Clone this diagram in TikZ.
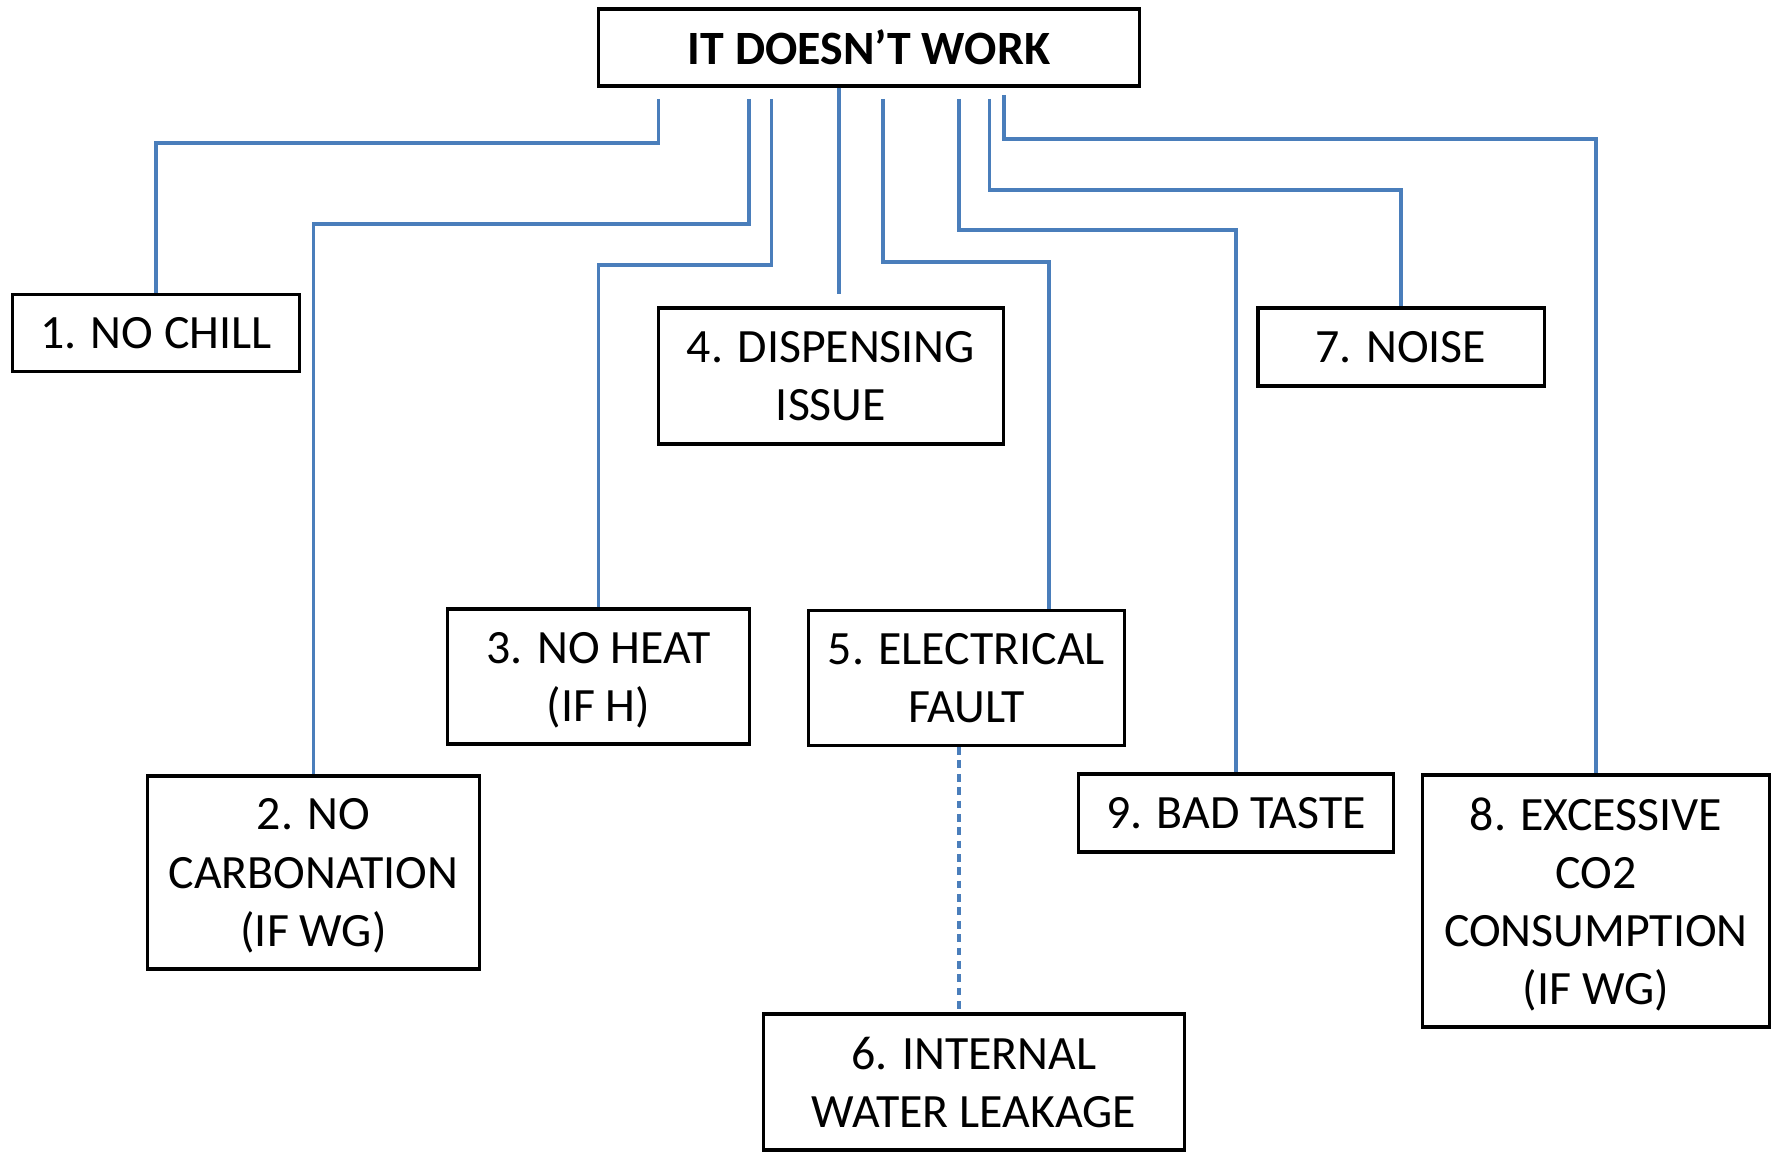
\documentclass[tikz,border=0pt]{standalone}
\usepackage{fontspec}
\setmainfont{Carlito}
\usepackage{tikz}

\definecolor{linkblue}{RGB}{74,126,187}

\tikzset{
  box/.style={draw, line width=0.9pt, align=center, inner sep=0pt, text depth=0pt,
    font=\fontsize{13.6}{16.5}\selectfont},
  link/.style={draw=linkblue, line width=0.9pt}
}

\begin{document}
\begin{tikzpicture}[x=0.01cm, y=-0.01cm]
\useasboundingbox (0,0) rectangle (1771,1155);

% boxes
\node[box, font=\fontsize{13.6}{16.5}\selectfont\bfseries, minimum width=5.40cm, minimum height=0.77cm] (top) at (869,47.5) {IT DOESN’T WORK};
\node[box, minimum width=2.86cm, minimum height=0.77cm] (n1) at (156,333) {1. NO CHILL};
\node[box, minimum width=3.31cm, minimum height=1.93cm] (n2) at (313.5,872.5) {2. NO\\CARBONATION\\(IF WG)};
\node[box, minimum width=3.01cm, minimum height=1.35cm] (n3) at (598.5,676.5) {3. NO HEAT\\(IF H)};
\node[box, minimum width=3.45cm, minimum height=1.36cm] (n4) at (831,376) {4. DISPENSING\\ISSUE};
\node[box, minimum width=3.15cm, minimum height=1.35cm] (n5) at (966.5,678) {5. ELECTRICAL\\FAULT};
\node[box, minimum width=4.20cm, minimum height=1.36cm] (n6) at (974,1082) {6. INTERNAL\\WATER LEAKAGE};
\node[box, minimum width=2.86cm, minimum height=0.78cm] (n7) at (1401,347) {7. NOISE};
\node[box, minimum width=3.46cm, minimum height=2.52cm] (n8) at (1596,901) {8. EXCESSIVE\\CO2\\CONSUMPTION\\(IF WG)};
\node[box, minimum width=3.15cm, minimum height=0.78cm] (n9) at (1236,813) {9. BAD TASTE};

% connectors
\draw[link] (658.5,99) |- (n1.north |- 0,143) -- (n1.north);
\draw[link] (749,99) |- (n2.north |- 0,224) -- (n2.north);
\draw[link] (771.5,99) |- (n3.north |- 0,265) -- (n3.north);
\draw[link] (top.south -| 839,0) -- (839,294);
\draw[link] (883,99) |- (1049,262) -- (n5.north -| 1049,0);
\draw[link] (959,99) |- (n9.north |- 0,230) -- (n9.north);
\draw[link] (989.5,99) |- (n7.north |- 0,190) -- (n7.north);
\draw[link] (1004,95) |- (n8.north |- 0,139) -- (n8.north);
\draw[link, dashed, dash pattern=on 2.2pt off 1.6pt] (n5.south -| 959,0) -- (n6.north -| 959,0);

\end{tikzpicture}
\end{document}
